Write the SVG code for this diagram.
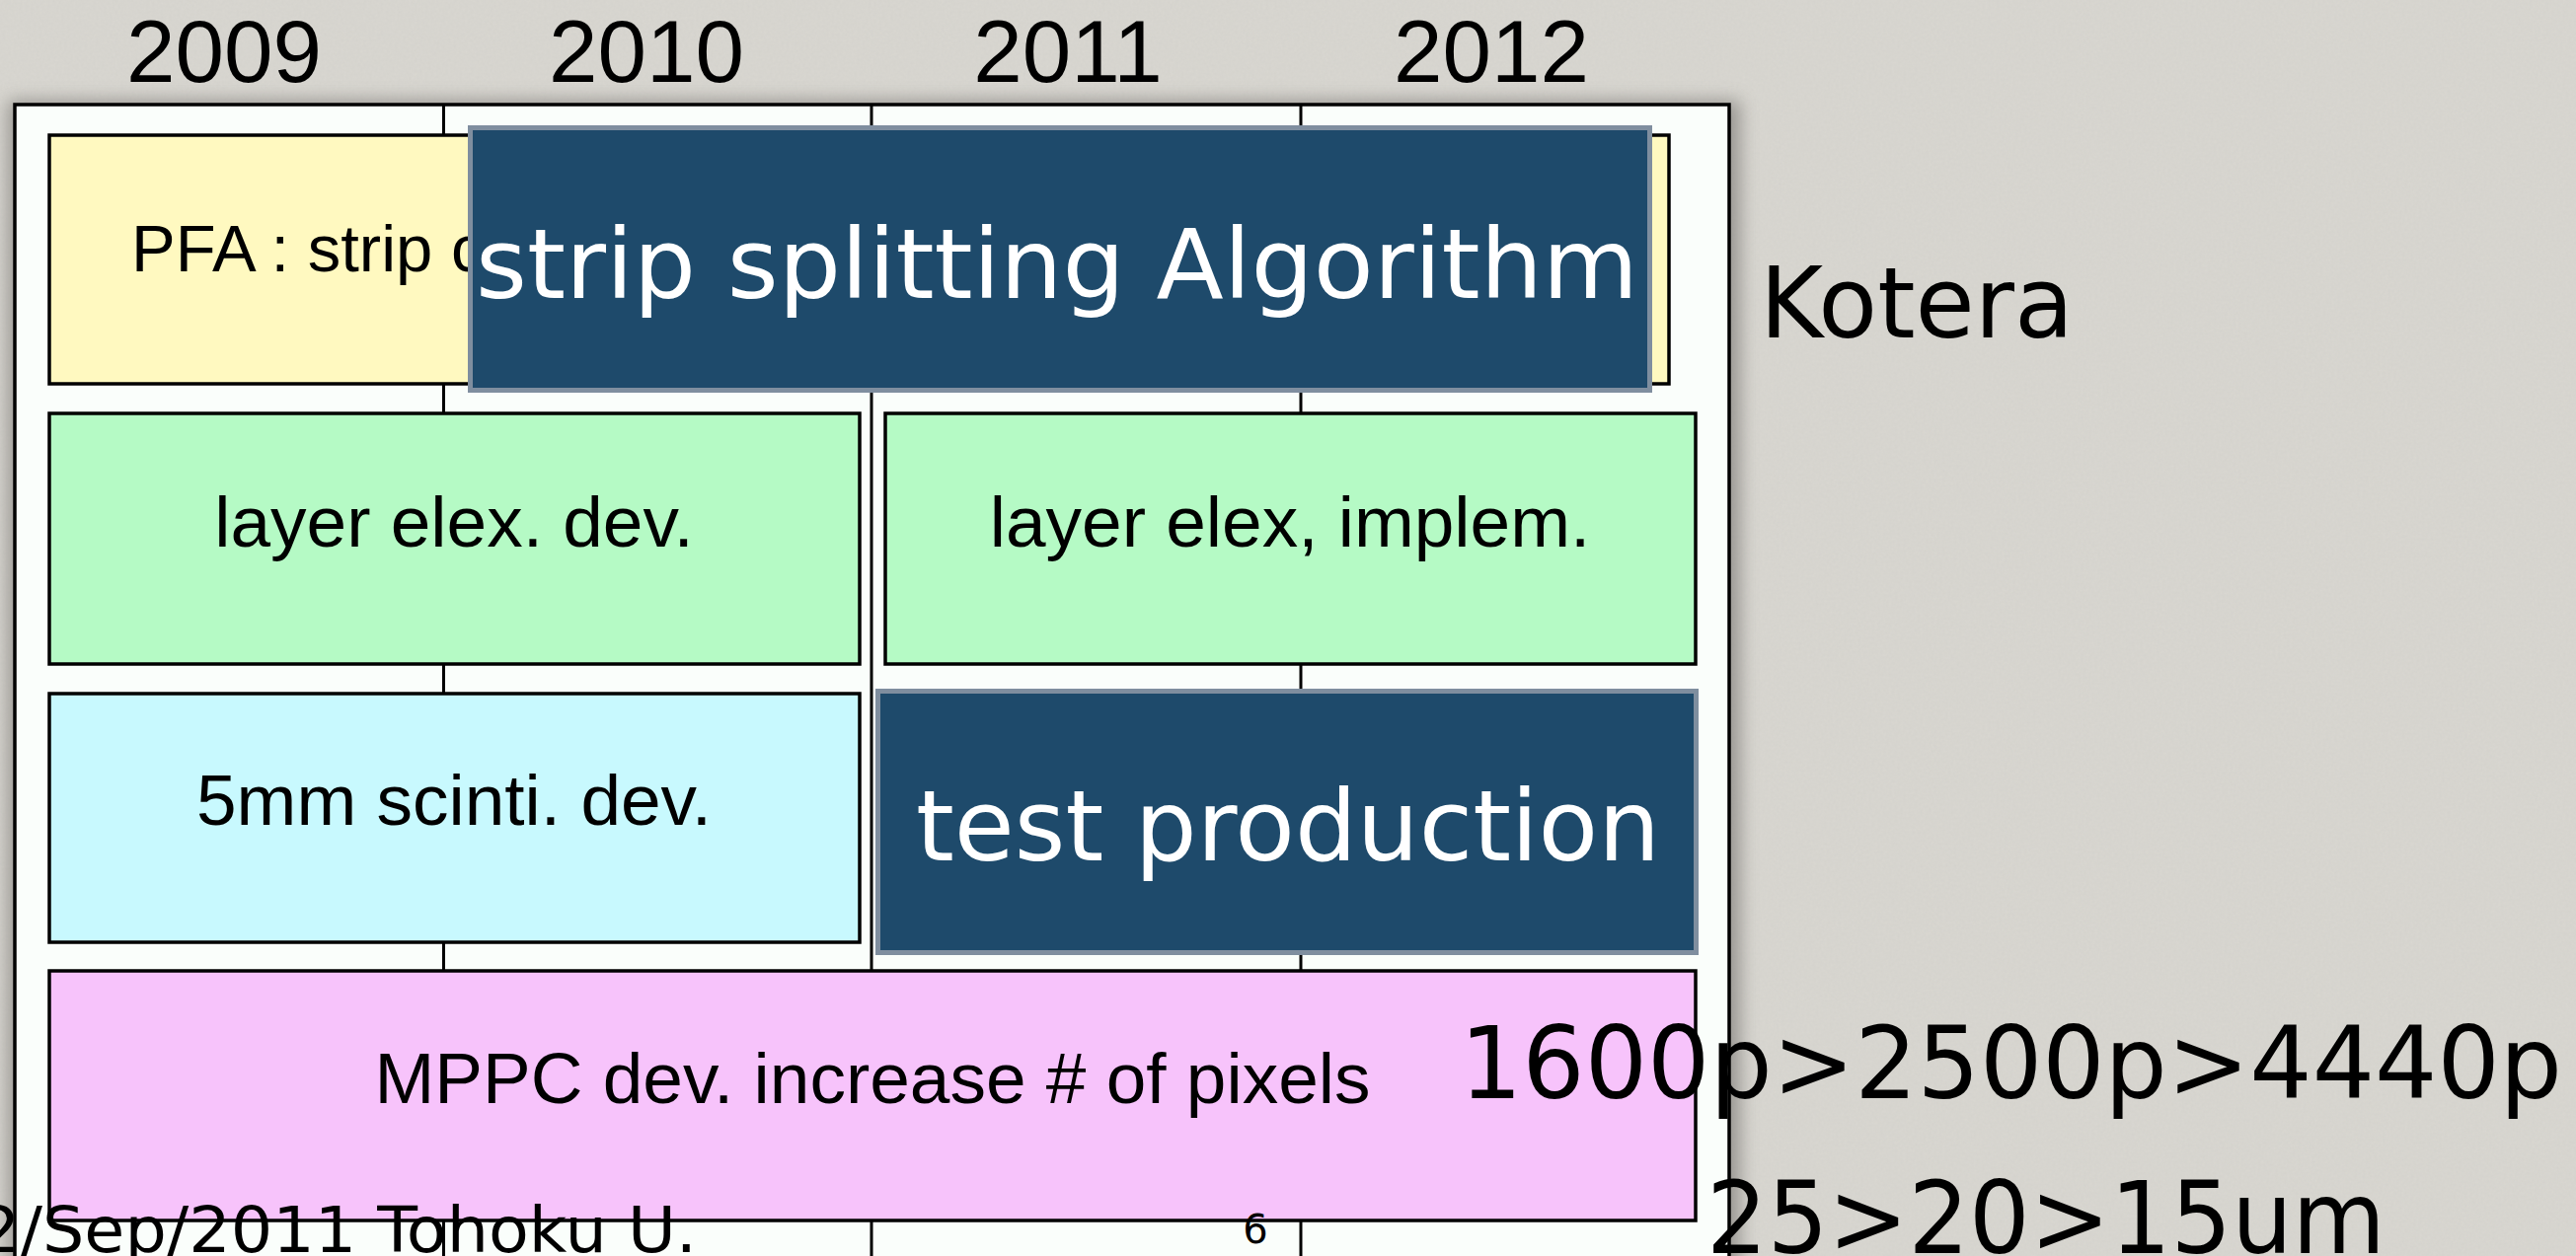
<svg xmlns="http://www.w3.org/2000/svg" width="2610" height="1273" viewBox="0 0 2610 1273">
  <defs>
    <filter id="shadow" x="-5%" y="-5%" width="110%" height="110%">
      <feGaussianBlur stdDeviation="9"/>
    </filter>
    <filter id="paper" x="0" y="0" width="100%" height="100%">
      <feTurbulence type="fractalNoise" baseFrequency="0.35" numOctaves="2" seed="4" result="n"/>
      <feColorMatrix in="n" type="matrix" values="0 0 0 0 0.5  0 0 0 0 0.5  0 0 0 0 0.48  0 0 0 0.18 0"/>
      <feComposite in2="SourceGraphic" operator="in"/>
    </filter>
    <style>
      .year { font-family: "Liberation Sans", Arial, sans-serif; font-size: 89px; fill: #000; text-anchor: middle; }
      .lbl { font-family: "Liberation Sans", Arial, sans-serif; font-size: 73px; fill: #000; text-anchor: middle; }
      .box { stroke: #000; stroke-width: 3.5; }
      .dark { fill: #1e4a6b; stroke: #7f8e9f; stroke-width: 5; }
      .white { font-family: "DejaVu Sans", Verdana, sans-serif; fill: #fff; }
      .big { font-family: "DejaVu Sans", Verdana, sans-serif; fill: #000; }
      .grid { stroke: #000; stroke-width: 3; }
    </style>
  </defs>

  <!-- paper background -->
  <rect x="0" y="0" width="2610" height="1273" fill="#d9d7d1"/>
  <rect x="0" y="0" width="2610" height="1273" fill="#d9d7d1" filter="url(#paper)"/>

  <!-- frame shadow -->
  <rect x="8" y="102" width="1755" height="1220" fill="#6e6c68" opacity="0.6" filter="url(#shadow)"/>

  <!-- timeline frame -->
  <g id="frame">
    <rect x="15" y="106" width="1737" height="1220" fill="#fafefb" stroke="#000" stroke-width="3.5"/>
  </g>

  <!-- year column separators -->
  <g id="connectors">
    <line class="grid" x1="449.5" y1="106" x2="449.5" y2="1273"/>
    <line class="grid" x1="883" y1="106" x2="883" y2="1273"/>
    <line class="grid" x1="1318" y1="106" x2="1318" y2="1273"/>
  </g>

  <!-- year labels -->
  <g id="years">
    <text class="year" x="227" y="83">2009</text>
    <text class="year" x="655" y="83">2010</text>
    <text class="year" x="1082" y="83">2011</text>
    <text class="year" x="1511" y="83">2012</text>
  </g>

  <g id="pfa">
    <rect class="box" x="50" y="137" width="1641" height="252" fill="#fff9c0"/>
    <text x="133" y="275" font-family="Liberation Sans, Arial, sans-serif" font-size="67">PFA : strip c</text>
  </g>

  <g id="strip-splitting">
    <rect class="dark" x="476.5" y="129.5" width="1195" height="266"/>
    <text class="white" x="482" y="302" font-size="98" textLength="1178" lengthAdjust="spacingAndGlyphs">strip splitting Algorithm</text>
  </g>

  <g id="layer-dev">
    <rect class="box" x="50" y="419" width="821" height="254" fill="#b5fac5"/>
    <text class="lbl" x="460" y="554">layer elex. dev.</text>
  </g>

  <g id="layer-implem">
    <rect class="box" x="897" y="419" width="821" height="254" fill="#b5fac5"/>
    <text class="lbl" x="1307" y="554">layer elex, implem.</text>
  </g>

  <g id="scinti">
    <rect class="box" x="50" y="703" width="821" height="252" fill="#c8f9fe"/>
    <text class="lbl" x="460" y="836">5mm scinti. dev.</text>
  </g>

  <g id="test-production">
    <rect class="dark" x="889.5" y="700.5" width="829" height="265"/>
    <text class="white" x="928" y="872" font-size="100" textLength="754" lengthAdjust="spacingAndGlyphs">test production</text>
  </g>

  <g id="mppc">
    <rect class="box" x="50" y="984" width="1668" height="253" fill="#f7c3fb"/>
    <text class="lbl" x="884" y="1118">MPPC dev. increase # of pixels</text>
  </g>

  <g id="notes">
    <text class="big" x="1783" y="342" font-size="100" textLength="318" lengthAdjust="spacingAndGlyphs">Kotera</text>
    <text class="big" x="1479" y="1113" font-size="102" textLength="1117" lengthAdjust="spacingAndGlyphs">1600p&gt;2500p&gt;4440p</text>
    <text class="big" x="1729" y="1270" font-size="102" textLength="688" lengthAdjust="spacingAndGlyphs">25&gt;20&gt;15um</text>
  </g>

  <g id="footer">
    <text x="-22" y="1269" font-family="DejaVu Sans, Verdana, sans-serif" font-size="64" textLength="728" lengthAdjust="spacingAndGlyphs">2/Sep/2011 Tohoku U.</text>
    <text x="1272" y="1260" font-family="DejaVu Sans, Verdana, sans-serif" font-size="40" text-anchor="middle">6</text>
  </g>
</svg>
